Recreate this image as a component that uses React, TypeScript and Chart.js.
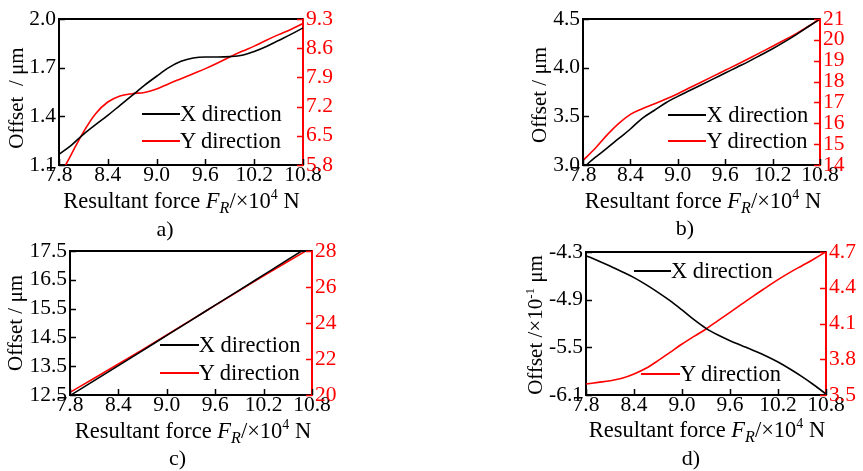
import React, { useEffect, useRef } from 'react';
import { Chart, registerables } from 'chart.js';

Chart.register(...registerables);

const FONT = '"Liberation Serif", "Times New Roman", Times, serif';
const RED = '#ff0000';
const BLACK = '#000000';

// ---- data ----
const forceFine = [7.8, 7.95, 8.1, 8.25, 8.4, 8.55, 8.7, 8.85, 9.0, 9.15, 9.3, 9.45, 9.6, 9.75, 9.9, 10.05, 10.2, 10.35, 10.5, 10.65, 10.8];
const forceCoarse = [7.8, 8.1, 8.4, 8.7, 9.0, 9.3, 9.6, 9.9, 10.2, 10.5, 10.8];
const forceTicks = [7.8, 8.4, 9.0, 9.6, 10.2, 10.8];

// a)
const aXDir = [1.166, 1.221, 1.289, 1.349, 1.406, 1.468, 1.529, 1.591, 1.647, 1.7, 1.739, 1.76, 1.766, 1.766, 1.768, 1.776, 1.8, 1.831, 1.868, 1.905, 1.945];
const aYDir = [5.5, 6.05, 6.59, 7.03, 7.31, 7.455, 7.51, 7.54, 7.62, 7.75, 7.87, 7.99, 8.11, 8.245, 8.39, 8.525, 8.65, 8.79, 8.925, 9.05, 9.19];
const aLeftTicks = [1.1, 1.4, 1.7, 2.0];
const aRightTicks = [5.8, 6.5, 7.2, 7.9, 8.6, 9.3];

// b)
const bXDir = [2.97, 3.075, 3.17, 3.27, 3.37, 3.48, 3.56, 3.64, 3.705, 3.765, 3.825, 3.885, 3.945, 4.005, 4.065, 4.13, 4.195, 4.265, 4.34, 4.42, 4.5];
const bYDir = [14.22, 14.78, 15.42, 15.98, 16.43, 16.7, 16.92, 17.16, 17.42, 17.7, 17.98, 18.26, 18.54, 18.82, 19.11, 19.4, 19.69, 19.99, 20.3, 20.64, 21.0];
const bLeftTicks = [3.0, 3.5, 4.0, 4.5];
const bRightTicks = [14, 15, 16, 17, 18, 19, 20, 21];

// c)
const cXDir = [12.48, 13.0, 13.52, 14.04, 14.57, 15.09, 15.62, 16.14, 16.67, 17.2, 17.72];
const cYDir = [20.15, 20.93, 21.72, 22.52, 23.33, 24.16, 24.98, 25.8, 26.62, 27.42, 28.2];
const cLeftTicks = [12.5, 13.5, 14.5, 15.5, 16.5, 17.5];
const cRightTicks = [20, 22, 24, 26, 28];

// d)
const dXDir = [-4.346, -4.409, -4.476, -4.548, -4.623, -4.711, -4.808, -4.913, -5.03, -5.152, -5.261, -5.345, -5.416, -5.479, -5.542, -5.609, -5.685, -5.773, -5.869, -5.974, -6.088];
const dYDir = [3.592, 3.606, 3.62, 3.64, 3.676, 3.724, 3.788, 3.858, 3.928, 3.992, 4.054, 4.124, 4.194, 4.264, 4.334, 4.401, 4.468, 4.529, 4.585, 4.641, 4.703];
const dLeftTicks = [-6.1, -5.5, -4.9, -4.3];
const dRightTicks = [3.5, 3.8, 4.1, 4.4, 4.7];

const seriesNames = ['X direction', 'Y direction'];

// ---- layout constants ----
const PAD_L = 55;
const PAD_R = 45;
const PAD_T = 15;
const PAD_B = 30;

type PanelCfg = {
  L: number; R: number; T: number; B: number;
  xs: number[];
  xDir: number[];
  yDir: number[];
  leftTicks: number[];
  rightTicks: number[];
  leftDec: number;
  rightDec: number;
};

const framePlugin = {
  id: 'frame',
  afterDraw(chart: any) {
    const { ctx, chartArea: a, scales } = chart;
    ctx.save();
    ctx.lineWidth = 1.5;
    ctx.strokeStyle = BLACK;
    ctx.beginPath();
    scales.x.ticks.forEach((t: any) => {
      const p = Math.round(scales.x.getPixelForValue(t.value)) + 0.5;
      ctx.moveTo(p, a.bottom);
      ctx.lineTo(p, a.bottom - 6);
    });
    scales.y.ticks.forEach((t: any) => {
      const p = Math.round(scales.y.getPixelForValue(t.value)) + 0.5;
      ctx.moveTo(a.left, p);
      ctx.lineTo(a.left + 6, p);
    });
    ctx.stroke();
    ctx.lineWidth = 2;
    ctx.beginPath();
    ctx.moveTo(a.left - 1, a.top);
    ctx.lineTo(a.right, a.top);
    ctx.stroke();
    ctx.strokeStyle = RED;
    ctx.lineWidth = 1.5;
    ctx.beginPath();
    scales.y1.ticks.forEach((t: any) => {
      const p = Math.round(scales.y1.getPixelForValue(t.value)) + 0.5;
      ctx.moveTo(a.right, p);
      ctx.lineTo(a.right - 6, p);
    });
    ctx.stroke();
    ctx.restore();
  },
};

function Panel({ cfg }: { cfg: PanelCfg }) {
  const ref = useRef<HTMLCanvasElement>(null);
  const w = cfg.R - cfg.L + PAD_L + PAD_R;
  const h = cfg.B - cfg.T + PAD_T + PAD_B;
  useEffect(() => {
    const tickFont = { family: FONT, size: 21.5, lineHeight: 1 };
    const chart = new Chart(ref.current as HTMLCanvasElement, {
      type: 'line',
      data: {
        datasets: [
          {
            label: seriesNames[0],
            data: cfg.xs.map((x, i) => ({ x, y: cfg.xDir[i] })),
            borderColor: BLACK,
            borderWidth: 1.6,
            pointRadius: 0,
            cubicInterpolationMode: 'monotone',
            yAxisID: 'y',
          },
          {
            label: seriesNames[1],
            data: cfg.xs.map((x, i) => ({ x, y: cfg.yDir[i] })),
            borderColor: RED,
            borderWidth: 1.6,
            pointRadius: 0,
            cubicInterpolationMode: 'monotone',
            yAxisID: 'y1',
          },
        ],
      },
      options: {
        animation: false,
        responsive: false,
        devicePixelRatio: 1,
        layout: { padding: { top: PAD_T, left: 0, right: 0, bottom: 0 }, autoPadding: false },
        plugins: { legend: { display: false }, tooltip: { enabled: false } },
        events: [],
        scales: {
          x: {
            type: 'linear',
            min: forceTicks[0],
            max: forceTicks[forceTicks.length - 1],
            grid: { display: false, drawTicks: false },
            border: { display: true, color: BLACK, width: 2 },
            ticks: {
              font: tickFont,
              color: BLACK,
              padding: 0,
              maxRotation: 0,
              autoSkip: false,
              callback: (v: any) => Number(v).toFixed(1),
            },
            afterBuildTicks: (s: any) => {
              s.ticks = forceTicks.map((v) => ({ value: v }));
            },
            afterFit: (s: any) => {
              s.height = PAD_B;
            },
          },
          y: {
            type: 'linear',
            position: 'left',
            min: cfg.leftTicks[0],
            max: cfg.leftTicks[cfg.leftTicks.length - 1],
            grid: { display: false, drawTicks: false },
            border: { display: true, color: BLACK, width: 2 },
            ticks: {
              font: tickFont,
              color: BLACK,
              padding: 3,
              autoSkip: false,
              callback: (v: any) => Number(v).toFixed(cfg.leftDec),
            },
            afterBuildTicks: (s: any) => {
              s.ticks = cfg.leftTicks.map((v) => ({ value: v }));
            },
            afterFit: (s: any) => {
              s.width = PAD_L;
            },
          },
          y1: {
            type: 'linear',
            position: 'right',
            min: cfg.rightTicks[0],
            max: cfg.rightTicks[cfg.rightTicks.length - 1],
            grid: { display: false, drawTicks: false },
            border: { display: true, color: RED, width: 2 },
            ticks: {
              font: tickFont,
              color: RED,
              padding: 3,
              autoSkip: false,
              callback: (v: any) => Number(v).toFixed(cfg.rightDec),
            },
            afterBuildTicks: (s: any) => {
              s.ticks = cfg.rightTicks.map((v) => ({ value: v }));
            },
            afterFit: (s: any) => {
              s.width = PAD_R;
            },
          },
        },
      } as any,
      plugins: [framePlugin],
    });
    return () => chart.destroy();
  }, []);
  return (
    <canvas
      ref={ref}
      width={w}
      height={h}
      style={{ position: 'absolute', left: cfg.L - PAD_L, top: cfg.T - PAD_T, width: w, height: h }}
    />
  );
}

const panels: PanelCfg[] = [
  { L: 59, R: 303, T: 19, B: 165, xs: forceFine, xDir: aXDir, yDir: aYDir, leftTicks: aLeftTicks, rightTicks: aRightTicks, leftDec: 1, rightDec: 1 },
  { L: 583, R: 820, T: 19, B: 165, xs: forceFine, xDir: bXDir, yDir: bYDir, leftTicks: bLeftTicks, rightTicks: bRightTicks, leftDec: 1, rightDec: 0 },
  { L: 70, R: 312, T: 251, B: 395, xs: forceCoarse, xDir: cXDir, yDir: cYDir, leftTicks: cLeftTicks, rightTicks: cRightTicks, leftDec: 1, rightDec: 0 },
  { L: 586, R: 826, T: 252, B: 395, xs: forceFine, xDir: dXDir, yDir: dYDir, leftTicks: dLeftTicks, rightTicks: dRightTicks, leftDec: 1, rightDec: 1 },
];

const supStyle: React.CSSProperties = { fontSize: '0.62em', position: 'relative', top: '-0.62em' };
const subStyle: React.CSSProperties = { fontSize: '0.72em', position: 'relative', top: '0.28em', fontStyle: 'italic' };

function XTitle({ cx, cy }: { cx: number; cy: number }) {
  return (
    <div style={{ position: 'absolute', left: cx, top: cy, transform: 'translate(-50%,-50%)', whiteSpace: 'nowrap', fontSize: 22.5, lineHeight: 'normal' }}>
      Resultant force <i>F</i><span style={subStyle}>R</span>/×10<span style={supStyle}>4</span> N
    </div>
  );
}

function YTitle({ cx, cy, children }: { cx: number; cy: number; children: React.ReactNode }) {
  return (
    <div style={{ position: 'absolute', left: cx, top: cy, transform: 'translate(-50%,-50%) rotate(-90deg)', whiteSpace: 'nowrap', fontSize: 21, lineHeight: 'normal' }}>
      {children}
    </div>
  );
}

function Caption({ cx, cy, text }: { cx: number; cy: number; text: string }) {
  return (
    <div style={{ position: 'absolute', left: cx, top: cy, transform: 'translate(-50%,-50%)', whiteSpace: 'nowrap', fontSize: 22, lineHeight: 'normal' }}>
      {text}
    </div>
  );
}

function LegendItem({ x1, x2, y, color, label }: { x1: number; x2: number; y: number; color: string; label: string }) {
  return (
    <>
      <div style={{ position: 'absolute', left: x1, top: Math.round(y) - 1, width: x2 - x1, height: 2, background: color }} />
      <div style={{ position: 'absolute', left: x2, top: y, transform: 'translateY(-50%)', whiteSpace: 'nowrap', fontSize: 22.5, lineHeight: 'normal' }}>
        {label}
      </div>
    </>
  );
}

export default function App() {
  return (
    <div style={{ position: 'absolute', left: 0, top: 0, width: 863, height: 471, background: '#fff', overflow: 'hidden', fontFamily: FONT, color: '#000' }}>
      {panels.map((p, i) => (
        <Panel key={i} cfg={p} />
      ))}
      <YTitle cx={16} cy={98}>Offset{'\u00a0\u00a0'}/ μm</YTitle>
      <YTitle cx={539} cy={95}>Offset / μm</YTitle>
      <YTitle cx={14.5} cy={323}>Offset / μm</YTitle>
      <YTitle cx={535} cy={325}>
        Offset /×10<span style={supStyle}>-1</span> μm
      </YTitle>

      <XTitle cx={181.5} cy={201} />
      <XTitle cx={703} cy={201} />
      <XTitle cx={193} cy={431} />
      <XTitle cx={707} cy={430} />

      <Caption cx={165} cy={229} text="a)" />
      <Caption cx={685} cy={228} text="b)" />
      <Caption cx={177.5} cy={458} text="c)" />
      <Caption cx={691} cy={458} text="d)" />

      <LegendItem x1={141.7} x2={180} y={114} color={BLACK} label={seriesNames[0]} />
      <LegendItem x1={141.7} x2={180} y={141} color={RED} label={seriesNames[1]} />
      <LegendItem x1={668.3} x2={706.5} y={114.5} color={BLACK} label={seriesNames[0]} />
      <LegendItem x1={668.3} x2={706.5} y={141} color={RED} label={seriesNames[1]} />
      <LegendItem x1={160.3} x2={198.7} y={345.3} color={BLACK} label={seriesNames[0]} />
      <LegendItem x1={160.3} x2={198.7} y={372.7} color={RED} label={seriesNames[1]} />
      <LegendItem x1={633.7} x2={671} y={271} color={BLACK} label={seriesNames[0]} />
      <LegendItem x1={641} x2={680} y={374.3} color={RED} label={seriesNames[1]} />
    </div>
  );
}
